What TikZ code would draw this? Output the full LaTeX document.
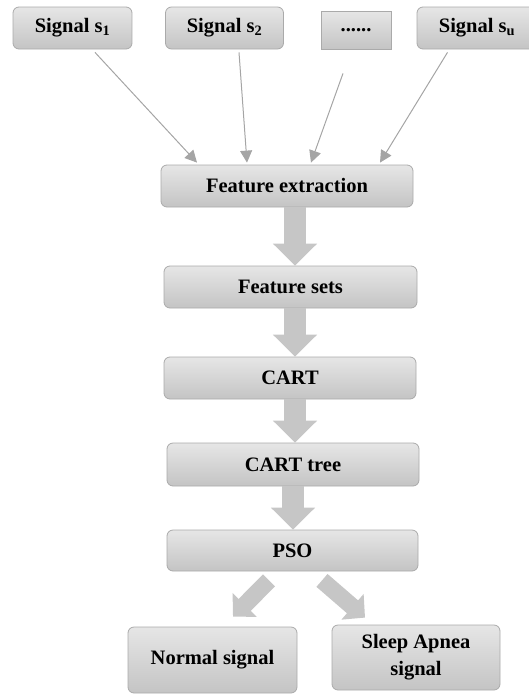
\documentclass[tikz,border=0pt]{standalone}
\usepackage{fontspec}
\setmainfont{Liberation Serif}
\usetikzlibrary{arrows.meta}
\definecolor{boxtop}{RGB}{230,230,230}
\definecolor{boxbot}{RGB}{196,196,196}
\definecolor{boxline}{RGB}{170,170,170}
\definecolor{thinarr}{RGB}{165,165,165}
\definecolor{blkcol}{RGB}{198,198,198}
\tikzset{
  box/.style={draw=boxline, line width=0.8pt, rounded corners=6pt, top color=boxtop, bottom color=boxbot,
    align=center, inner sep=0pt, font=\bfseries\fontsize{20.5}{27}\selectfont},
  sqbox/.style={box, rounded corners=0pt},
  thin/.style={draw=thinarr, line width=1pt, -{Triangle[length=12pt,width=12pt]}},
  blkv/.style={draw=blkcol, line width=21.5pt, -{Triangle[length=22pt,width=43pt]}},
  blkd/.style={draw=blkcol, line width=17pt, -{Triangle[length=16.5pt,width=33pt]}},
}
\begin{document}
\begin{tikzpicture}[x=1pt,y=-1pt]
\useasboundingbox (0,0) rectangle (528,694);
\node[box, minimum width=119pt, minimum height=42pt] (s1) at (72.5,28) {Signal s\textsubscript{1}};
\node[box, minimum width=118pt, minimum height=42pt] (s2) at (224.5,28) {Signal s\textsubscript{2}};
\node[sqbox, minimum width=70pt, minimum height=38pt] (dots) at (356,30) {......};
\node[box, minimum width=120pt, minimum height=42pt] (su) at (477,28) {Signal s\textsubscript{u}};
\node[box, minimum width=252pt, minimum height=42pt] (fe) at (287,186) {Feature extraction};
\node[box, minimum width=253pt, minimum height=42pt] (fs) at (290.5,287) {Feature sets};
\node[box, minimum width=252pt, minimum height=42pt] (cart) at (290,378) {CART};
\node[box, minimum width=252pt, minimum height=43pt] (ctree) at (293,464.5) {CART tree};
\node[box, minimum width=251pt, minimum height=41pt] (pso) at (292.5,550.5) {PSO};
\node[box, minimum width=169pt, minimum height=66pt] (normal) at (212.5,660) {Normal signal};
\node[box, minimum width=168pt, minimum height=65pt] (sleep) at (416,657.5) {Sleep Apnea\\signal};
% thin arrows
\draw[thin] ([xshift=22.5pt,yshift=-3pt]s1.south) -- ([xshift=-90pt,yshift=2pt]fe.north);
\draw[thin] ([xshift=14.5pt,yshift=-3pt]s2.south) -- ([xshift=-40pt,yshift=2pt]fe.north);
\draw[thin] ([xshift=-13pt,yshift=-24pt]dots.south) -- ([xshift=24pt,yshift=2pt]fe.north);
\draw[thin] ([xshift=-29.5pt,yshift=-3pt]su.south) -- ([xshift=93pt,yshift=2pt]fe.north);
% block arrows
\draw[blkv] (fe.south -| 295,0) -- (fs.north -| 295,0);
\draw[blkv] (fs.south -| 295,0) -- (cart.north -| 295,0);
\draw[blkv] (cart.south -| 295,0) -- (ctree.north -| 295,0);
\draw[blkv] (ctree.south -| 293,0) -- (pso.north -| 293,0);
\draw[blkd] ([xshift=-23.5pt,yshift=-9pt]pso.south) -- ([xshift=20.5pt,yshift=10pt]normal.north);
\draw[blkd] ([xshift=29.5pt,yshift=-9pt]pso.south) -- ([xshift=-51pt,yshift=7pt]sleep.north);
\end{tikzpicture}
\end{document}
